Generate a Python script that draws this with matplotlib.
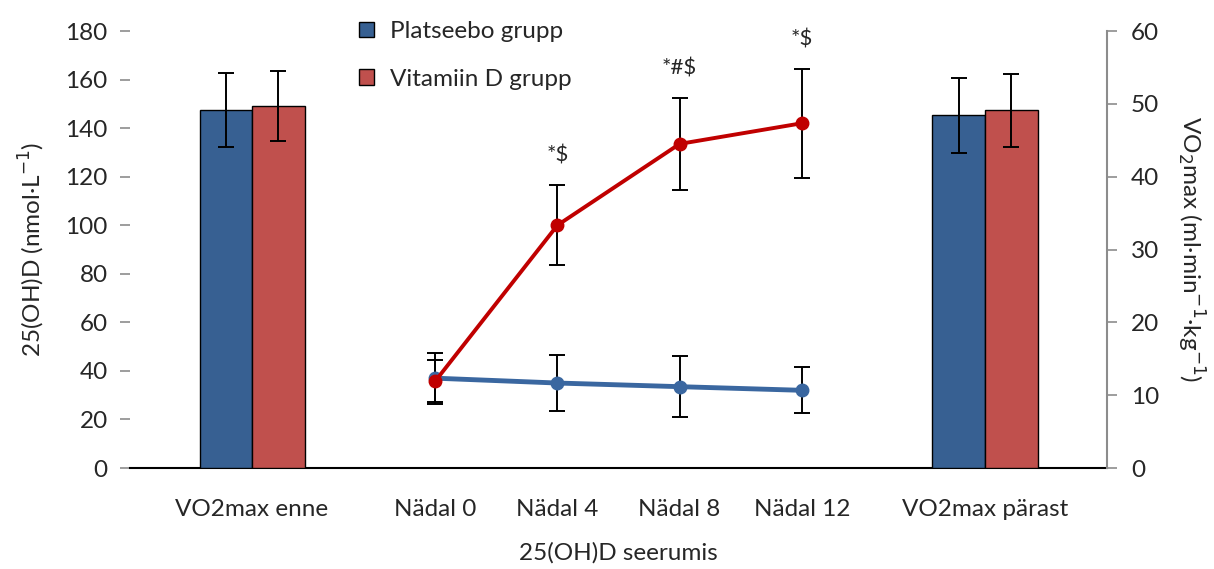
import matplotlib.pyplot as plt
from matplotlib.patches import Patch

plt.rcParams["font.family"] = ["Lato", "DejaVu Sans"]

# x positions of the categories
bar_labels = ["VO2max enne", "VO2max pärast"]
week_labels = ["Nädal 0", "Nädal 4", "Nädal 8", "Nädal 12"]

# VO2max (ml/min/kg), right axis
vo2_placebo = [49.2, 48.4]
vo2_placebo_sd = [5.1, 5.1]
vo2_vitd = [49.7, 49.1]
vo2_vitd_sd = [4.8, 5.0]

# 25(OH)D (nmol/L), left axis
d_placebo = [37.0, 35.0, 33.5, 32.0]
d_placebo_sd = [10.5, 11.7, 12.5, 9.5]
d_vitd = [35.8, 100.0, 133.5, 142.0]
d_vitd_sd = [8.5, 16.5, 19.0, 22.5]
signif = ["", "*$", "*#$", "*$"]

bar_x = [0, 6]
week_x = [1.5, 2.5, 3.5, 4.5]

blue = "#376092"
red_bar = "#c0504d"
line_blue = "#3a67a0"
line_red = "#c00000"
grey = "#8c8c8c"
txt = "#262626"
fs = 17.5

fig = plt.figure(figsize=(12.14, 5.69), dpi=100)
ax = fig.add_axes([0.107, 0.1775, 0.805, 0.768])
ax2 = ax.twinx()

# bars on the right axis
w = 0.43
ax2.bar([x - w / 2 for x in bar_x], vo2_placebo, width=w, color=blue,
        edgecolor="black", linewidth=1, zorder=2)
ax2.bar([x + w / 2 for x in bar_x], vo2_vitd, width=w, color=red_bar,
        edgecolor="black", linewidth=1, zorder=2)
ax2.errorbar([x - w / 2 for x in bar_x], vo2_placebo, yerr=vo2_placebo_sd,
             fmt="none", ecolor="black", elinewidth=1.4, capsize=6, capthick=1.4, zorder=3)
ax2.errorbar([x + w / 2 for x in bar_x], vo2_vitd, yerr=vo2_vitd_sd,
             fmt="none", ecolor="black", elinewidth=1.4, capsize=6, capthick=1.4, zorder=3)

# lines on the left axis
ax.errorbar(week_x, d_placebo, yerr=d_placebo_sd, fmt="none", ecolor="black",
            elinewidth=1.4, capsize=6, capthick=1.4, zorder=2)
ax.errorbar(week_x, d_vitd, yerr=d_vitd_sd, fmt="none", ecolor="black",
            elinewidth=1.4, capsize=6, capthick=1.4, zorder=2)
ax.plot(week_x, d_placebo, color=line_blue, linewidth=3.5, marker="o",
        markersize=9, zorder=3)
ax.plot(week_x, d_vitd, color=line_red, linewidth=2.8, marker="o",
        markersize=9, zorder=4)

for x, y, sd, s in zip(week_x, d_vitd, d_vitd_sd, signif):
    if s:
        ax.text(x, y + sd + 8, s, ha="center", va="bottom", fontsize=16, color=txt)

ax.set_xlim(-1, 7)
ax.set_ylim(0, 180)
ax2.set_ylim(0, 60)
ax.set_yticks(range(0, 181, 20))
ax2.set_yticks(range(0, 61, 10))
ax.set_xticks(bar_x[:1] + week_x + bar_x[1:])
ax.set_xticklabels(bar_labels[:1] + week_labels + bar_labels[1:])

for a in (ax, ax2):
    a.spines["top"].set_visible(False)
    a.spines["left"].set_visible(False)
    a.spines["right"].set_visible(False)
ax2.spines["right"].set_visible(True)
ax2.spines["right"].set_color(grey)
ax2.spines["right"].set_linewidth(1.5)
ax.spines["bottom"].set_color("black")
ax.spines["bottom"].set_linewidth(1.5)
ax2.spines["bottom"].set_visible(False)

ax.tick_params(axis="y", colors=grey, labelcolor=txt, labelsize=fs, length=7, width=1.2, pad=9)
ax2.tick_params(axis="y", colors=grey, labelcolor=txt, labelsize=fs, length=7, width=1.2, pad=10)
ax.tick_params(axis="x", length=0, labelsize=fs, labelcolor=txt, pad=22)

ax.set_ylabel("25(OH)D (nmol·L$^{-1}$)", fontsize=fs, color=txt, labelpad=13)
ax2.set_ylabel("VO$_2$max (ml·min$^{-1}$·kg$^{-1}$)", fontsize=fs, color=txt,
               rotation=270, labelpad=34)
ax.set_xlabel("25(OH)D seerumis", fontsize=fs, color=txt, labelpad=16)

handles = [Patch(facecolor=blue, edgecolor="black"),
           Patch(facecolor=red_bar, edgecolor="black")]
fig.legend(handles, ["Platseebo grupp", "Vitamiin D grupp"], loc="upper left",
           bbox_to_anchor=(0.2957, 0.963), frameon=False, fontsize=fs,
           handlelength=0.62, handleheight=0.62, labelspacing=1.1, handletextpad=0.65,
           borderpad=0, borderaxespad=0, labelcolor=txt)

fig.savefig("out.png", dpi=100)
